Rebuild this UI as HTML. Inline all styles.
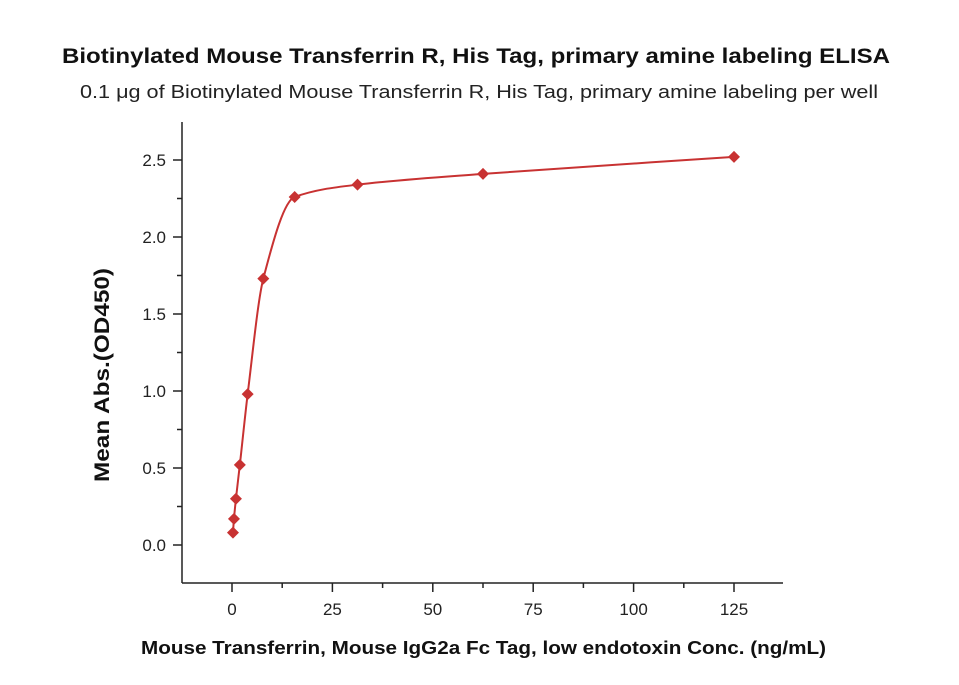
<!DOCTYPE html>
<html><head><meta charset="utf-8"><style>
body{margin:0;background:#fff;}
svg{display:block;font-family:"Liberation Sans","DejaVu Sans",sans-serif;}
</style></head><body>
<svg id="chart" width="959" height="685" viewBox="0 0 959 685">
<text x="62" y="63" textLength="828" lengthAdjust="spacingAndGlyphs" font-size="21" font-weight="bold" fill="#111">Biotinylated Mouse Transferrin R, His Tag, primary amine labeling ELISA</text>
<text x="80" y="98" textLength="798" lengthAdjust="spacingAndGlyphs" font-size="18" fill="#222">0.1 μg of Biotinylated Mouse Transferrin R, His Tag, primary amine labeling per well</text>
<text x="141" y="654" textLength="685" lengthAdjust="spacingAndGlyphs" font-size="18" font-weight="bold" fill="#111">Mouse Transferrin, Mouse IgG2a Fc Tag, low endotoxin Conc. (ng/mL)</text>
<text transform="translate(109,482) rotate(-90)" textLength="214" lengthAdjust="spacingAndGlyphs" font-size="21" font-weight="bold" fill="#111">Mean Abs.(OD450)</text>
<g id="axes"></g>
<g id="series"></g>
</svg>
<script>
const xValues=[0.24,0.49,0.98,1.95,3.9,7.8,15.6,31.25,62.5,125];
const yValues=[0.08,0.17,0.30,0.52,0.98,1.73,2.26,2.34,2.41,2.52];
const xTicks=[0,25,50,75,100,125];
const yTicks=[0.0,0.5,1.0,1.5,2.0,2.5];
const yTickLabels=["0.0","0.5","1.0","1.5","2.0","2.5"];
const NS="http://www.w3.org/2000/svg";
const X0=182,YB=583,YT=122,XR=783;
const xs=v=>232+v*4.016;
const ys=v=>545-v*154;
function mk(tag,attrs,parent){const e=document.createElementNS(NS,tag);for(const k in attrs)e.setAttribute(k,attrs[k]);parent.appendChild(e);return e;}
const ax=document.getElementById('axes');
let e=mk('line',{x1:X0,y1:YT,x2:X0,y2:YB,stroke:'#222','stroke-width':1.5},ax);


e=mk('line',{x1:X0,y1:YB,x2:XR,y2:YB,stroke:'#222','stroke-width':1.5},ax);


xTicks.forEach((t,i)=>{
  const x=xs(t);
  let l=mk('line',{x1:x,y1:YB,x2:x,y2:YB+9,stroke:'#222','stroke-width':1.5},ax);
  
  
  let tx=mk('text',{x:x,y:YB+32,'text-anchor':'middle','font-size':17,fill:'#222'},ax);
  tx.textContent=t;
  
  
});
for(let v=-12.5;v<=137.5;v+=25){const x=xs(v);if(x<X0||x>XR)continue;
  let l=mk('line',{x1:x,y1:YB,x2:x,y2:YB+5,stroke:'#222','stroke-width':1.5},ax);
  
  }
yTicks.forEach((t,i)=>{
  const y=ys(t);
  let l=mk('line',{x1:X0-9,y1:y,x2:X0,y2:y,stroke:'#222','stroke-width':1.5},ax);
  
  
  let tx=mk('text',{x:X0-16,y:y+6,'text-anchor':'end','font-size':17,fill:'#222'},ax);
  tx.textContent=yTickLabels[i];
  
  
});
for(let v=-0.25;v<=2.75;v+=0.5){const y=ys(v);if(y>YB||y<YT)continue;
  let l=mk('line',{x1:X0-5,y1:y,x2:X0,y2:y,stroke:'#222','stroke-width':1.5},ax);
  
  }
const sg=document.getElementById('series');
const n=xValues.length,px=xValues.map(xs),py=yValues.map(ys);
const d=[],m=[];
for(let i=0;i<n-1;i++)d.push((py[i+1]-py[i])/(px[i+1]-px[i]));
m[0]=d[0];m[n-1]=d[n-2];
for(let i=1;i<n-1;i++){m[i]=(d[i-1]*d[i]<=0)?0:2/(1/d[i-1]+1/d[i]);}
let path='M'+px[0]+','+py[0];
for(let i=0;i<n-1;i++){const h=(px[i+1]-px[i])/3;
  path+=' C'+(px[i]+h)+','+(py[i]+m[i]*h)+' '+(px[i+1]-h)+','+(py[i+1]-m[i+1]*h)+' '+px[i+1]+','+py[i+1];}
e=mk('path',{d:path,fill:'none',stroke:'#c83232','stroke-width':2},sg);


for(let i=0;i<n;i++){
  const x=px[i],y=py[i],r=6;
  let p=mk('polygon',{points:`${x},${y-r} ${x+r},${y} ${x},${y+r} ${x-r},${y}`,fill:'#c83232'},sg);
  
  
}
</script>
</body></html>
